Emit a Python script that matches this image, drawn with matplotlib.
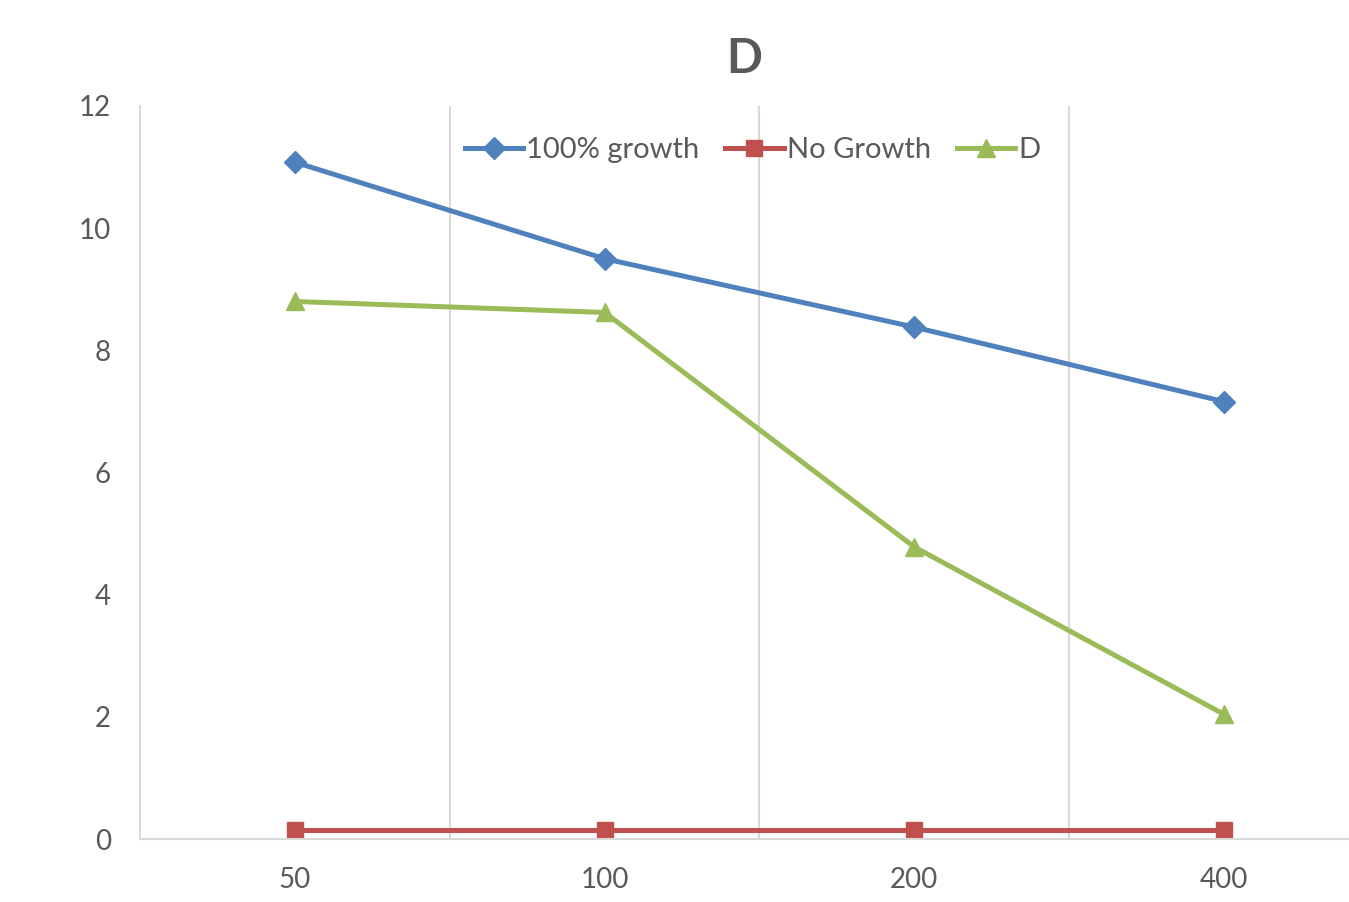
import matplotlib.pyplot as plt

plt.rcParams['font.family'] = ['Lato', 'DejaVu Sans']

# data
categories = ['50', '100', '200', '400']
growth_100 = [11.08, 9.50, 8.38, 7.16]
no_growth = [0.15, 0.15, 0.15, 0.15]
d_values = [8.80, 8.62, 4.78, 2.04]

x = list(range(len(categories)))
grid_col = '#d9d9d9'
text_col = '#595959'

fig = plt.figure(figsize=(13.49, 9.02), dpi=100)
ax = fig.add_axes([140/1349, 63/902, 1208/1349, 733/902])

# vertical gridlines between categories
for b in [0.5, 1.5, 2.5]:
    ax.axvline(b, color=grid_col, lw=1.5, zorder=0)

ax.plot(x, growth_100, color='#4F81BD', lw=3.6, marker='D', ms=11,
        label='100% growth')
ax.plot(x, no_growth, color='#C0504D', lw=3.6, marker='s', ms=11,
        label='No Growth')
ax.plot(x, d_values, color='#9BBB59', lw=3.6, marker='^', ms=13,
        label='D')

ax.set_xlim(-0.5, 3.4)
ax.set_ylim(0, 12)
ax.set_yticks(range(0, 13, 2))
ax.set_xticks(x)
ax.set_xticklabels(categories)

for s in ['top', 'right']:
    ax.spines[s].set_visible(False)
for s in ['left', 'bottom']:
    ax.spines[s].set_color(grid_col)
    ax.spines[s].set_linewidth(1.5)
ax.tick_params(length=0, labelsize=20, colors=text_col)
ax.tick_params(axis='y', pad=21)
ax.tick_params(axis='x', pad=20)

ax.set_title('D', fontsize=34, fontweight='bold', color=text_col, pad=24)

ax.legend(loc='center', bbox_to_anchor=(0.507, 0.94), ncol=3,
          frameon=False, fontsize=21, handlelength=2.0, handletextpad=0.1,
          columnspacing=0.9, labelcolor=text_col)

fig.savefig('out.png', dpi=100)
